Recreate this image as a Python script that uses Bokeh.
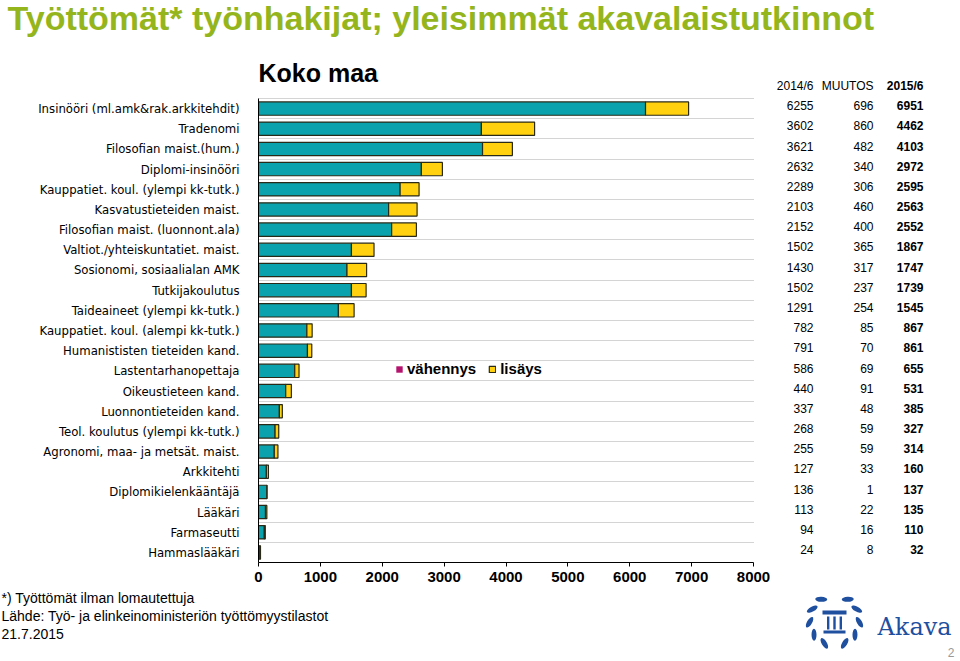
import math
from bokeh.plotting import figure
from bokeh.layouts import column
from bokeh.models import Range1d, FixedTicker, ColumnDataSource, Legend, LegendItem
from bokeh.core.properties import value
from bokeh.embed import file_html
from bokeh.resources import INLINE

categories = [
    "Insinööri (ml.amk&rak.arkkitehdit)", "Tradenomi", "Filosofian maist.(hum.)",
    "Diplomi-insinööri", "Kauppatiet. koul. (ylempi kk-tutk.)", "Kasvatustieteiden maist.",
    "Filosofian maist. (luonnont.ala)", "Valtiot./yhteiskuntatiet. maist.",
    "Sosionomi, sosiaalialan AMK", "Tutkijakoulutus", "Taideaineet (ylempi kk-tutk.)",
    "Kauppatiet. koul. (alempi kk-tutk.)", "Humanististen tieteiden kand.",
    "Lastentarhanopettaja", "Oikeustieteen kand.", "Luonnontieteiden kand.",
    "Teol. koulutus (ylempi kk-tutk.)", "Agronomi, maa- ja metsät. maist.",
    "Arkkitehti", "Diplomikielenkääntäjä", "Lääkäri", "Farmaseutti", "Hammaslääkäri",
]
v2014 = [6255, 3602, 3621, 2632, 2289, 2103, 2152, 1502, 1430, 1502, 1291, 782, 791,
         586, 440, 337, 268, 255, 127, 136, 113, 94, 24]
muutos = [696, 860, 482, 340, 306, 460, 400, 365, 317, 237, 254, 85, 70,
          69, 91, 48, 59, 59, 33, 1, 22, 16, 8]
v2015 = [6951, 4462, 4103, 2972, 2595, 2563, 2552, 1867, 1747, 1739, 1545, 867, 861,
         655, 531, 385, 327, 314, 160, 137, 135, 110, 32]
table_headers = ["2014/6", "MUUTOS", "2015/6"]
x_ticks = [0, 1000, 2000, 3000, 4000, 5000, 6000, 7000, 8000]
x_max = 8000

TEAL = "#0aa3ad"
YELLOW = "#ffd10f"
MAGENTA = "#b5146e"
EDGE = "#2a2a18"
GREEN = "#95b51c"
BLUE = "#1f4f9f"
FONT = "Liberation Sans"
CAT_FONT = "'DejaVu Sans Condensed', 'Liberation Sans'"

W = 960
TOP_H, MAIN_H, BOT_H = 40, 550, 71


def strip(h, y_start):
    f = figure(width=W, height=h, x_range=Range1d(0, W), y_range=Range1d(y_start + h, y_start),
               output_backend="svg", toolbar_location=None, min_border=0,
               x_axis_location=None, y_axis_location=None, frame_align=False)
    f.grid.visible = False
    f.outline_line_color = None
    return f


# ---------- top strip: main title ----------
top = strip(TOP_H, 0)
top.text(x=[7], y=[17], text=["Työttömät* työnhakijat; yleisimmät akavalaistutkinnot"],
         text_font=value(FONT), text_font_style="bold", text_font_size="34px",
         text_color=GREEN, text_baseline="middle", text_align="left")

# ---------- main chart ----------
n = len(categories)
ypos = [i + 0.5 for i in range(n)]
inc = [max(m, 0) for m in muutos]
dec = [min(m, 0) for m in muutos]

FRAME_L, FRAME_R_AXIS, FRAME_R = 258, 753, 958   # page pixels
FRAME_T, ROW_TOP, FRAME_B = 50, 98, 562
row_px = (FRAME_B - ROW_TOP) / n
x_end = x_max * (FRAME_R - FRAME_L) / (FRAME_R_AXIS - FRAME_L)
y_top = -(ROW_TOP - FRAME_T) / row_px
px_x = x_max / (FRAME_R_AXIS - FRAME_L)

src = ColumnDataSource(dict(
    y=ypos, base=[0] * n, v14=v2014, v15=[a + b for a, b in zip(v2014, inc)],
    dec_end=[a + d for a, d in zip(v2014, dec)],
    ty=[y - 0.14 for y in ypos],
    t1=[str(v) for v in v2014], t2=[str(v) for v in muutos], t3=[str(v) for v in v2015],
))

p = figure(width=W, height=MAIN_H, x_range=Range1d(0, x_end), y_range=Range1d(n, y_top),
           output_backend="svg", toolbar_location=None, title=None, frame_align=False,
           min_border_left=FRAME_L, min_border_right=W - FRAME_R,
           min_border_top=FRAME_T - TOP_H, min_border_bottom=TOP_H + MAIN_H - FRAME_B)
p.outline_line_color = None

r14 = p.hbar(y="y", left="base", right="v14", height=0.66, source=src,
             fill_color=TEAL, line_color=EDGE, line_width=1.2)
rinc = p.hbar(y="y", left="v14", right="v15", height=0.66, source=src,
              fill_color=YELLOW, line_color=EDGE, line_width=1.2)
rdec = p.hbar(y="y", left="dec_end", right="v14", height=0.66, source=src,
              fill_color=MAGENTA, line_color=None)

p.xaxis.ticker = FixedTicker(ticks=x_ticks)
p.xaxis.bounds = (0, x_max)
p.xaxis.axis_line_color = "black"
p.xaxis.major_tick_line_color = "black"
p.xaxis.major_tick_out = 4
p.xaxis.major_tick_in = 0
p.xaxis.minor_tick_line_color = None
p.xaxis.major_label_text_font = FONT
p.xaxis.major_label_text_font_style = "bold"
p.xaxis.major_label_text_font_size = "15px"
p.xaxis.major_label_text_color = "black"
p.xaxis.major_label_standoff = 5

p.yaxis.ticker = FixedTicker(ticks=ypos)
p.yaxis.bounds = (0, n)
p.yaxis.major_label_overrides = {y: c for y, c in zip(ypos, categories)}
p.yaxis.axis_line_color = "black"
p.yaxis.major_tick_line_color = None
p.yaxis.minor_tick_line_color = None
p.yaxis.major_label_text_font = CAT_FONT
p.yaxis.major_label_text_font_size = "13px"
p.yaxis.major_label_text_color = "black"
p.yaxis.major_label_standoff = 13

p.xgrid.grid_line_color = None
p.ygrid.ticker = FixedTicker(ticks=list(range(n + 1)))
p.ygrid.bounds = (0, n)
p.ygrid.cross_bounds = (0, x_max)
p.ygrid.grid_line_color = "#a8a8a8"
p.ygrid.grid_line_dash = "1 1"
p.ygrid.grid_line_width = 1

legend = Legend(items=[LegendItem(label="vähennys", renderers=[rdec]),
                       LegendItem(label="lisäys", renderers=[rinc])],
                location=(137, 185), orientation="horizontal",
                glyph_width=8, glyph_height=8, label_standoff=4, spacing=12,
                padding=0, margin=0, border_line_color=None,
                background_fill_alpha=0,
                label_text_font=FONT, label_text_font_style="bold",
                label_text_font_size="15px", label_text_color="black")
p.add_layout(legend, "center")

# "Koko maa" heading
p.text(x=[0], y=[(72 - ROW_TOP) / row_px], text=["Koko maa"], text_font=value(FONT),
       text_font_style="bold", text_font_size="25px", text_color="black",
       text_baseline="middle", text_align="left")

# table
col_px = [813, 873, 923]
col_x = [(c - FRAME_L) * px_x for c in col_px]
for cx, field, style in zip(col_x, ["t1", "t2", "t3"], ["normal", "normal", "bold"]):
    p.text(x=cx, y="ty", text=field, source=src, text_align="right",
           text_baseline="middle", text_font=value(FONT), text_font_style=style,
           text_font_size="12px", text_color="black")
p.text(x=col_x, y=[(85 - ROW_TOP) / row_px] * 3, text=table_headers,
       text_align="right", text_baseline="middle", text_font=value(FONT),
       text_font_style=["normal", "normal", "bold"], text_font_size="12px",
       text_color="black")

# ---------- bottom strip: notes and logo ----------
y0 = TOP_H + MAIN_H
bot = strip(BOT_H, y0)
notes = ["*) Työttömät ilman lomautettuja",
         "Lähde: Työ- ja elinkeinoministeriön työttömyystilastot",
         "21.7.2015"]
bot.text(x=[1, 1, 1], y=[597, 615, 633], text=notes, text_font=value(FONT),
         text_font_size="14px", text_color="black", text_baseline="middle",
         text_align="left")
bot.text(x=[877], y=[626], text=["Akava"], text_font=value("DejaVu Serif"),
         text_font_size="24px", text_color=BLUE, text_baseline="alphabetic",
         text_align="left")
bot.text(x=[954], y=[652], text=["2"], text_font=value(FONT), text_font_size="12px",
         text_color="#999999", text_baseline="middle", text_align="right")

# simple laurel-wreath emblem (decorative logo)
cxl, cyl, rl = 834, 620, 25
leaf_x, leaf_y, leaf_a = [], [], []
for side in (-1, 1):
    for k in range(5):
        t = math.radians(32 + 31 * k)
        leaf_x.append(cxl + side * rl * math.sin(t))
        leaf_y.append(cyl - rl * math.cos(t))
        leaf_a.append(side * (0.6 - t))
bot.ellipse(x=leaf_x, y=leaf_y, width=12, height=5, angle=leaf_a,
            fill_color=BLUE, line_color=None)
bot.quad(left=[822, 823], right=[846, 845], top=[610, 630], bottom=[614, 633],
         fill_color=BLUE, line_color=None)
bot.quad(left=[826.5, 832.8, 839.1], right=[828.9, 835.2, 841.5],
         top=[616, 616, 616], bottom=[629, 629, 629], fill_color=BLUE, line_color=None)

layout = column(top, p, bot, spacing=0)
open("out.html", "w").write(file_html(layout, INLINE))
